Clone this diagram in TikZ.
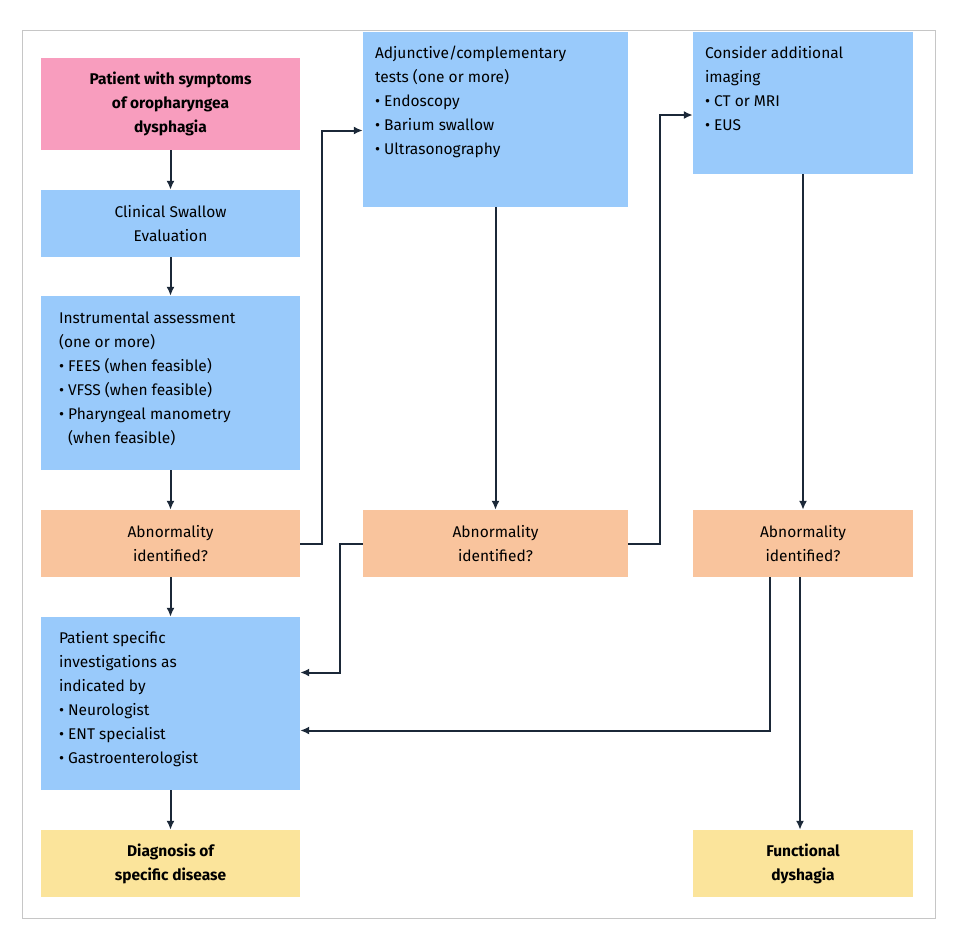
\documentclass[tikz,border=0pt]{standalone}
\usepackage{fontspec}
\setmainfont{Fira Sans}
\usetikzlibrary{arrows.meta}
\definecolor{pinkbox}{HTML}{F89DBE}
\definecolor{bluebox}{HTML}{99CAFB}
\definecolor{orangebox}{HTML}{F9C49D}
\definecolor{yellowbox}{HTML}{FBE49B}
\definecolor{arrowcol}{HTML}{1B2838}
\tikzset{
  box/.style={rectangle,inner sep=0pt,minimum width=#1},
  txt/.style={inner sep=0pt,align=left,anchor=north west,font=\fontsize{15.5}{24}\selectfont},
  ctr/.style={align=center,font=\fontsize{15.5}{24}\selectfont},
  arr/.style={draw=arrowcol,line width=2pt,-{Latex[length=9pt,width=8pt]}}
}
\begin{document}
\begin{tikzpicture}[x=1pt,y=-1pt]
    \useasboundingbox (0,0) rectangle (957,945);
    \draw[gray!45,line width=1pt] (22,30) rectangle (935,918);

    % left column
    \node[box=259pt,minimum height=92pt,fill=pinkbox,ctr,font=\fontsize{15.5}{24}\selectfont\bfseries] (patient) at (170.5,104) {Patient with symptoms\\of oropharyngea\\dysphagia};
    \node[box=259pt,minimum height=67pt,fill=bluebox,ctr] (clinical) at (170.5,223.5) {Clinical Swallow\\Evaluation};
    \node[box=259pt,minimum height=174pt,fill=bluebox] (instr) at (170.5,383) {};
    \node[txt] at ([shift={(18pt,-16pt)}]instr.north west) {Instrumental assessment\\(one or more)\\\textbullet\ FEES (when feasible)\\\textbullet\ VFSS (when feasible)\\\textbullet\ Pharyngeal manometry\\\phantom{\textbullet\ }(when feasible)};
    \node[box=259pt,minimum height=67pt,fill=orangebox,ctr] (abnA) at (170.5,543.5) {Abnormality\\identified?};
    \node[box=259pt,minimum height=173pt,fill=bluebox] (specific) at (170.5,703.5) {};
    \node[txt] at ([shift={(18pt,-14pt)}]specific.north west) {Patient specific\\investigations as\\indicated by\\\textbullet\ Neurologist\\\textbullet\ ENT specialist\\\textbullet\ Gastroenterologist};
    \node[box=259pt,minimum height=67pt,fill=yellowbox,ctr,font=\fontsize{15.5}{24}\selectfont\bfseries] (diagnosis) at (170.5,863.5) {Diagnosis of\\specific disease};

    % middle column
    \node[box=265pt,minimum height=175pt,fill=bluebox] (adjunct) at (495.5,119.5) {};
    \node[txt] at ([shift={(12pt,-14pt)}]adjunct.north west) {Adjunctive/complementary\\tests (one or more)\\\textbullet\ Endoscopy\\\textbullet\ Barium swallow\\\textbullet\ Ultrasonography};
    \node[box=265pt,minimum height=67pt,fill=orangebox,ctr] (abnB) at (495.5,543.5) {Abnormality\\identified?};

    % right column
    \node[box=220pt,minimum height=142pt,fill=bluebox] (imaging) at (803,103) {};
    \node[txt] at ([shift={(12pt,-14pt)}]imaging.north west) {Consider additional\\imaging\\\textbullet\ CT or MRI\\\textbullet\ EUS};
    \node[box=220pt,minimum height=67pt,fill=orangebox,ctr] (abnC) at (803,543.5) {Abnormality\\identified?};
    \node[box=220pt,minimum height=67pt,fill=yellowbox,ctr,font=\fontsize{15.5}{24}\selectfont\bfseries] (functional) at (803,863.5) {Functional\\dyshagia};

    \draw[arr] (patient) -- (clinical);
    \draw[arr] (clinical) -- (instr);
    \draw[arr] (instr) -- (abnA);
    \draw[arr] (abnA) -- (specific);
    \draw[arr] (specific) -- (diagnosis);
    \draw[arr] (abnA.east) -- (322,543.5) |- ([yshift=-11pt]adjunct.west);
    \draw[arr] (adjunct) -- (abnB);
    \draw[arr] (abnB.east) -- (660,543.5) |- ([yshift=-12pt]imaging.west);
    \draw[arr] (imaging) -- (abnC);
    \draw[arr] (abnB.west) -- (340,543.5) |- ([yshift=31pt]specific.east);
    \draw[arr] ([xshift=-33pt]abnC.south) |- ([yshift=-27pt]specific.east);
    \draw[arr] ([xshift=-3pt]abnC.south) -- ([xshift=-3pt]functional.north);
\end{tikzpicture}
\end{document}
